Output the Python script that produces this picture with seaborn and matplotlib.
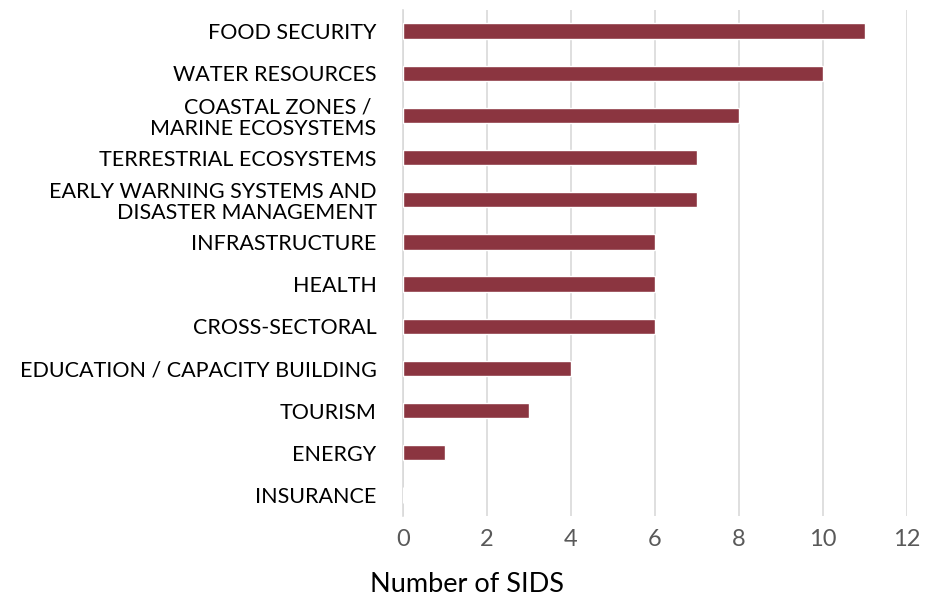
import matplotlib
matplotlib.use("Agg")
import matplotlib.pyplot as plt
import seaborn as sns
import pandas as pd

categories = [
    "FOOD SECURITY",
    "WATER RESOURCES",
    "COASTAL ZONES / \nMARINE ECOSYSTEMS",
    "TERRESTRIAL ECOSYSTEMS",
    "EARLY WARNING SYSTEMS AND\nDISASTER MANAGEMENT",
    "INFRASTRUCTURE",
    "HEALTH",
    "CROSS-SECTORAL",
    "EDUCATION / CAPACITY BUILDING",
    "TOURISM",
    "ENERGY",
    "INSURANCE",
]
values = [11, 10, 8, 7, 7, 6, 6, 6, 4, 3, 1, 0]
x_ticks = [0, 2, 4, 6, 8, 10, 12]

df = pd.DataFrame({"category": categories, "value": values})

sns.set_theme(style="white")
plt.rcParams["font.family"] = ["Lato", "DejaVu Sans"]

fig = plt.figure(figsize=(9.26, 6.0), dpi=100)
ax = fig.add_axes([403 / 926, 1 - 516 / 600, (907 - 403) / 926, (516 - 10) / 600])

sns.barplot(data=df, y="category", x="value", orient="h", color="#8B3540",
            width=0.36, ax=ax, saturation=1, zorder=3)

ax.set_xlim(0, 12)
ax.set_ylim(11.5, -0.5)
ax.set_xticks(x_ticks)
ax.set_xticklabels([str(t) for t in x_ticks], color="#595959", fontsize=17)
ax.xaxis.grid(True, color="#d9d9d9", linewidth=1.2, zorder=0)
ax.tick_params(axis="x", length=5, width=1.2, color="#d9d9d9", pad=4, direction="out")
ax.tick_params(axis="y", length=0, pad=19, labelsize=15.5, labelcolor="#000000")
for lab in ax.get_yticklabels():
    lab.set_linespacing(1.08)
for s in ["top", "right", "bottom"]:
    ax.spines[s].set_visible(False)
ax.spines["left"].set_color("#d9d9d9")
ax.spines["left"].set_linewidth(1.2)
ax.set_xlabel("")
ax.set_ylabel("")

fig.text(467 / 926, 1 - 585 / 600, "Number of SIDS", ha="center", va="center",
         fontsize=19.5, color="#000000")

fig.savefig("out.png", dpi=100)
